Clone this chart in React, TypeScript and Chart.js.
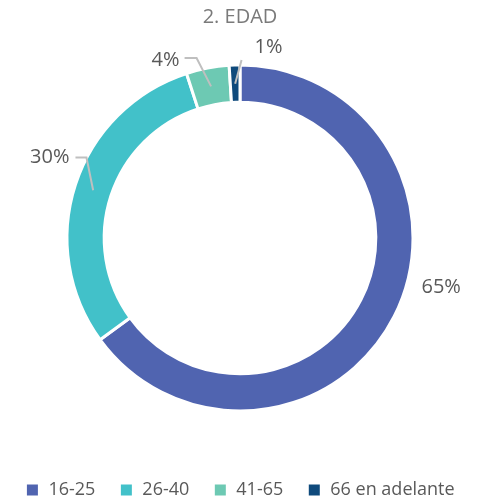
import React, { useEffect, useRef } from "react";
import { Chart, registerables } from "chart.js";

Chart.register(...registerables);

const titleText = "2. EDAD";
const categories = ["16-25", "26-40", "41-65", "66 en adelante"];
const values = [65, 30, 4, 1];
const valueLabels = ["65%", "30%", "4%", "1%"];
const colors = ["#5064B0", "#42C1C9", "#6DC9B3", "#0F4A7C"];

// label placement relative to the arc's outer mid point (style config)
const labelPlacement = [
  { dx: 47, dy: -29, align: "center", elbow: null, tail: null },
  { dx: -6, dy: -27, align: "right", elbow: [17, 0], tail: [6, 0] },
  { dx: -28, dy: -8, align: "right", elbow: [17, -2], tail: [5, -2] },
  { dx: 20, dy: -18, align: "left", elbow: [-13, 13], tail: null },
];

const FONT = "'Open Sans', sans-serif";

const labelPlugin = {
  id: "outLabels",
  afterDatasetsDraw(chart: any) {
    const ctx = chart.ctx;
    const meta = chart.getDatasetMeta(0);
    ctx.save();
    meta.data.forEach((arc: any, i: number) => {
      const p = arc.getProps(["x", "y", "startAngle", "endAngle", "innerRadius", "outerRadius"], true);
      const mid = (p.startAngle + p.endAngle) / 2;
      const rMid = (p.innerRadius + p.outerRadius) / 2;
      const ox = p.x + Math.cos(mid) * p.outerRadius;
      const oy = p.y + Math.sin(mid) * p.outerRadius;
      const ax = p.x + Math.cos(mid) * rMid;
      const ay = p.y + Math.sin(mid) * rMid;
      const cfg = labelPlacement[i];
      const lx = ox + cfg.dx;
      const ly = oy + cfg.dy;
      if (cfg.elbow) {
        ctx.strokeStyle = "#BFBFBF";
        ctx.lineWidth = 2;
        ctx.beginPath();
        ctx.moveTo(ax, ay);
        ctx.lineTo(lx + cfg.elbow[0], ly + cfg.elbow[1]);
        if (cfg.tail) ctx.lineTo(lx + cfg.tail[0], ly + cfg.tail[1]);
        ctx.stroke();
      }
      ctx.fillStyle = "#595959";
      ctx.font = `20px ${FONT}`;
      ctx.textAlign = cfg.align as CanvasTextAlign;
      ctx.textBaseline = "middle";
      ctx.fillText(valueLabels[i], lx, ly);
    });
    ctx.restore();
  },
};

export default function App() {
  const ref = useRef<HTMLCanvasElement>(null);
  useEffect(() => {
    document.body.style.margin = "0";
    const chart = new Chart(ref.current!, {
      type: "doughnut",
      data: {
        labels: categories,
        datasets: [
          {
            data: values,
            backgroundColor: colors,
            borderColor: "#FFFFFF",
            borderWidth: 3,
          },
        ],
      },
      options: {
        animation: false,
        responsive: false,
        radius: 173,
        cutout: "78.5%",
        layout: { padding: { top: 0, bottom: -7, left: 0, right: 0 } },
        plugins: {
          tooltip: { enabled: false },
          title: {
            display: true,
            text: titleText,
            color: "#7A7A7A",
            font: { family: FONT, size: 20, weight: "normal" },
            padding: { top: 5, bottom: -10 },
          },
          legend: {
            position: "bottom",
            labels: {
              color: "#595959",
              font: { family: FONT, size: 18 },
              boxWidth: 14,
              boxHeight: 14,
              padding: 24,
            },
          },
        },
      },
      plugins: [labelPlugin],
    });
    return () => chart.destroy();
  }, []);
  return <canvas ref={ref} width={480} height={502} style={{ display: "block" }} />;
}
